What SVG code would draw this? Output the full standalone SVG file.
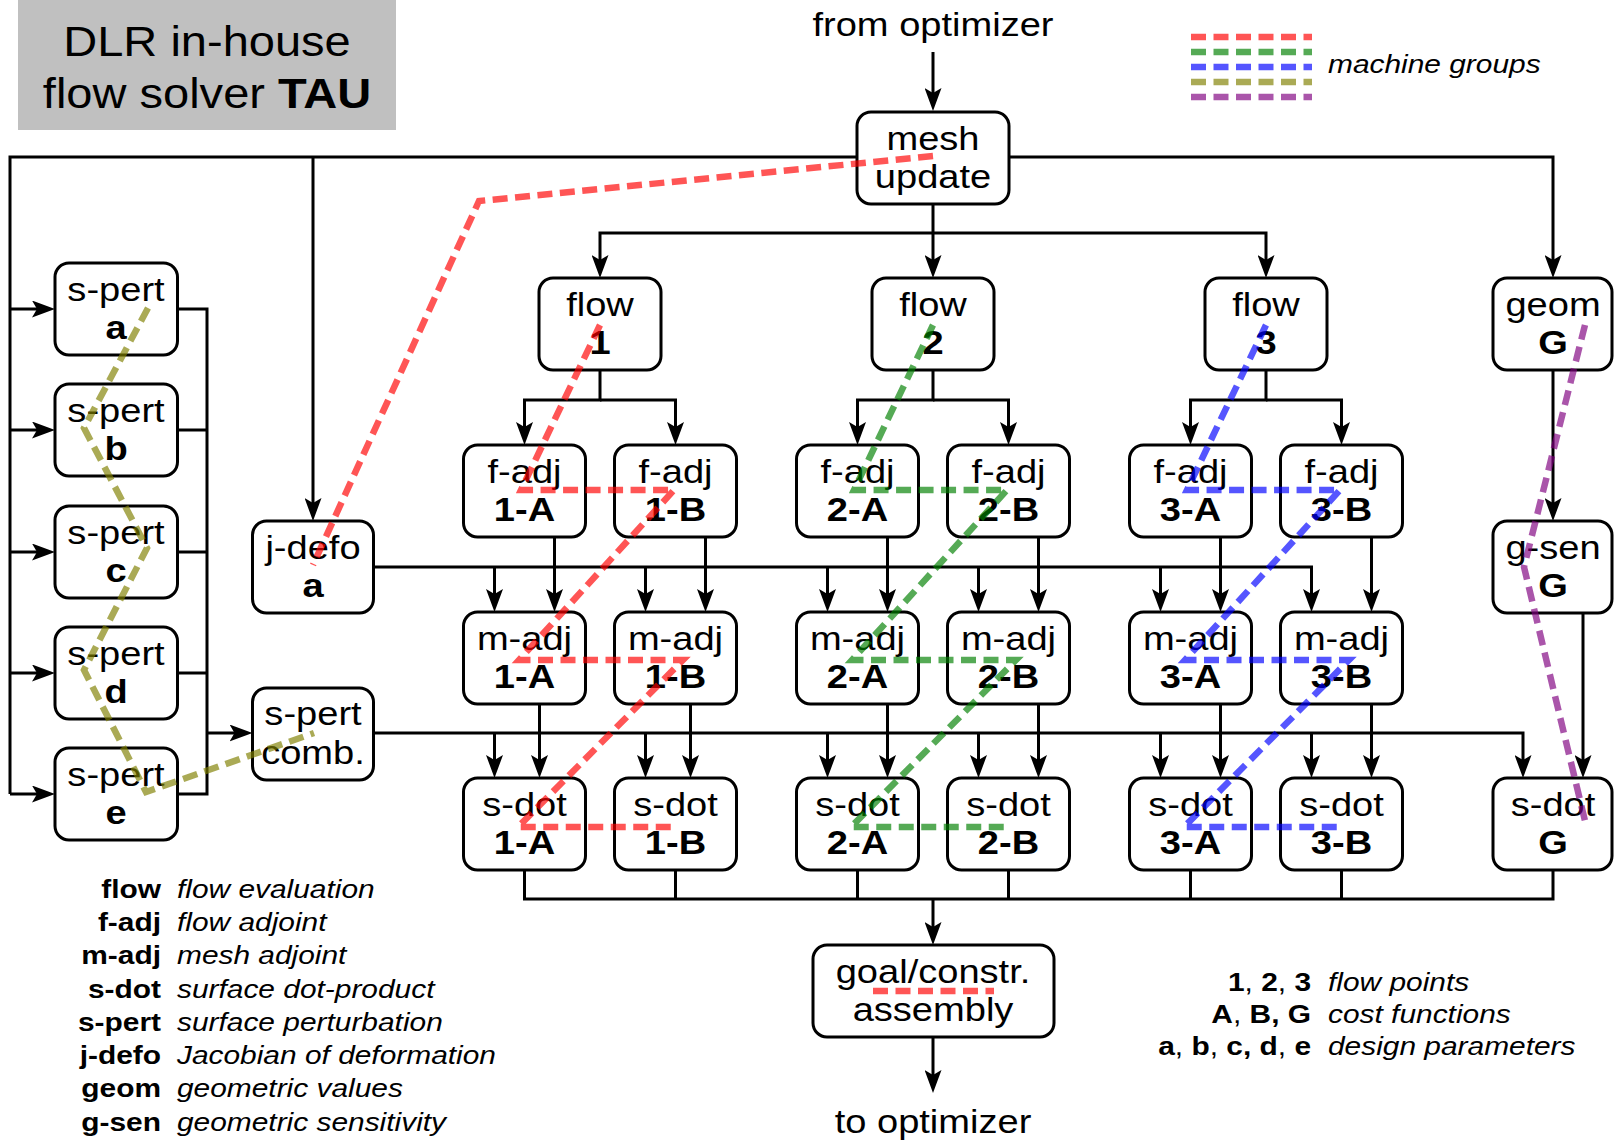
<svg xmlns="http://www.w3.org/2000/svg" width="1614" height="1142" viewBox="0 0 1614 1142">
<defs>
<marker id="ah" viewBox="0 0 23 17" refX="17" refY="8.5" markerWidth="23" markerHeight="17" markerUnits="userSpaceOnUse" orient="auto">
<path d="M0,0 L23,8.5 L0,17 L5,8.5 Z" fill="#000"/>
</marker>
<style>
.box{fill:#fff;stroke:#000;stroke-width:3}
.ln{fill:none;stroke:#000;stroke-width:3}
.ar{marker-end:url(#ah)}
.t{font-family:"Liberation Sans",Arial,Helvetica,sans-serif;font-size:34px;text-anchor:middle;fill:#000}
.ttl{font-family:"Liberation Sans",Arial,Helvetica,sans-serif;font-size:42px;text-anchor:middle;fill:#000}
.lg{font-family:"Liberation Sans",Arial,Helvetica,sans-serif;font-size:26px;fill:#000}
.r{text-anchor:end}
.b{font-weight:bold}
.it{font-style:italic}
.d{fill:none;stroke-width:6.5;stroke-dasharray:15 7.5;stroke-opacity:0.667}
.cr{stroke:#ff0000}.cg{stroke:#008000}.cb{stroke:#0000ff}.co{stroke:#808000}.cp{stroke:#800080}
</style>
</defs>
<rect width="1614" height="1142" fill="#fff"/>

<g id="title">
<rect x="18" y="0" width="378" height="130" fill="#c0c0c0"/>
<text class="ttl" transform="translate(207,56) scale(1.12,1)">DLR in-house</text>
<text class="ttl" transform="translate(207,108) scale(1.12,1)">flow solver <tspan class="b">TAU</tspan></text>
</g>

<g id="connectors">
<path class="ln ar" d="M933,52 V105"/>
<path class="ln" d="M857,157 H10 V794"/>
<path class="ln ar" d="M10,309 H49"/>
<path class="ln ar" d="M10,430 H49"/>
<path class="ln ar" d="M10,552 H49"/>
<path class="ln ar" d="M10,673 H49"/>
<path class="ln ar" d="M10,794 H49"/>
<path class="ln ar" d="M313,157 V515"/>
<path class="ln ar" d="M1009,157 H1553 V272"/>
<path class="ln ar" d="M933,204 V272"/>
<path class="ln ar" d="M933,233 H600 V272"/>
<path class="ln ar" d="M933,233 H1266 V272"/>
<path class="ln ar" d="M600,370 V400 H524.5 V439"/>
<path class="ln ar" d="M600,400 H675.5 V439"/>
<path class="ln ar" d="M933,370 V400 H857.5 V439"/>
<path class="ln ar" d="M933,400 H1008.5 V439"/>
<path class="ln ar" d="M1266,370 V400 H1190.5 V439"/>
<path class="ln ar" d="M1266,400 H1341.5 V439"/>
<path class="ln ar" d="M1553,370 V515"/>
<path class="ln ar" d="M1583,613 V772"/>
<path class="ln" d="M177.5,309 H207 V794 H177.5"/>
<path class="ln" d="M177.5,430 H207"/>
<path class="ln" d="M177.5,552 H207"/>
<path class="ln" d="M177.5,673 H207"/>
<path class="ln ar" d="M207,733 H246.5"/>
<path class="ln ar" d="M373.5,567 H1311.5 V606"/>
<path class="ln ar" d="M494.5,567 V606"/>
<path class="ln ar" d="M645.5,567 V606"/>
<path class="ln ar" d="M827.5,567 V606"/>
<path class="ln ar" d="M978.5,567 V606"/>
<path class="ln ar" d="M1160.5,567 V606"/>
<path class="ln ar" d="M554.5,537 V606"/>
<path class="ln ar" d="M705.5,537 V606"/>
<path class="ln ar" d="M887.5,537 V606"/>
<path class="ln ar" d="M1038.5,537 V606"/>
<path class="ln ar" d="M1220.5,537 V606"/>
<path class="ln ar" d="M1371.5,537 V606"/>
<path class="ln ar" d="M373.5,733 H1523 V772"/>
<path class="ln ar" d="M494.5,733 V772"/>
<path class="ln ar" d="M645.5,733 V772"/>
<path class="ln ar" d="M827.5,733 V772"/>
<path class="ln ar" d="M978.5,733 V772"/>
<path class="ln ar" d="M1160.5,733 V772"/>
<path class="ln ar" d="M1311.5,733 V772"/>
<path class="ln ar" d="M539.5,704 V772"/>
<path class="ln ar" d="M690.5,704 V772"/>
<path class="ln ar" d="M887.5,704 V772"/>
<path class="ln ar" d="M1038.5,704 V772"/>
<path class="ln ar" d="M1220.5,704 V772"/>
<path class="ln ar" d="M1371.5,704 V772"/>
<path class="ln" d="M524.5,870 V899 H1553 V870"/>
<path class="ln" d="M675.5,870 V899"/>
<path class="ln" d="M857.5,870 V899"/>
<path class="ln" d="M1008.5,870 V899"/>
<path class="ln" d="M1190.5,870 V899"/>
<path class="ln" d="M1341.5,870 V899"/>
<path class="ln ar" d="M933,899 V939"/>
<path class="ln ar" d="M933,1037 V1087"/>
</g>

<g id="io-labels">
<text class="t" transform="translate(933,36) scale(1.12,1)">from optimizer</text>
<text class="t" transform="translate(933,1133) scale(1.12,1)">to optimizer</text>
</g>

<g id="mesh-update">
<rect class="box" x="857" y="112" width="152" height="92" rx="14"/>
<text class="t" transform="translate(933,150) scale(1.12,1)">mesh</text>
<text class="t" transform="translate(933,188) scale(1.12,1)">update</text>
</g>

<g id="flow-1">
<rect class="box" x="539" y="278" width="122" height="92" rx="14"/>
<text class="t" transform="translate(600,316) scale(1.12,1)">flow</text>
<text class="t b" transform="translate(600,354) scale(1.12,1)">1</text>
</g>
<g id="flow-2">
<rect class="box" x="872" y="278" width="122" height="92" rx="14"/>
<text class="t" transform="translate(933,316) scale(1.12,1)">flow</text>
<text class="t b" transform="translate(933,354) scale(1.12,1)">2</text>
</g>
<g id="flow-3">
<rect class="box" x="1205" y="278" width="122" height="92" rx="14"/>
<text class="t" transform="translate(1266,316) scale(1.12,1)">flow</text>
<text class="t b" transform="translate(1266,354) scale(1.12,1)">3</text>
</g>
<g id="geom-G">
<rect class="box" x="1493" y="278" width="119" height="92" rx="14"/>
<text class="t" transform="translate(1553,316) scale(1.12,1)">geom</text>
<text class="t b" transform="translate(1553,354) scale(1.12,1)">G</text>
</g>

<g id="f-adj-1A">
<rect class="box" x="463.5" y="445" width="122" height="92" rx="14"/>
<text class="t" transform="translate(524.5,483) scale(1.12,1)">f-adj</text>
<text class="t b" transform="translate(524.5,521) scale(1.12,1)">1-A</text>
</g>
<g id="f-adj-1B">
<rect class="box" x="614.5" y="445" width="122" height="92" rx="14"/>
<text class="t" transform="translate(675.5,483) scale(1.12,1)">f-adj</text>
<text class="t b" transform="translate(675.5,521) scale(1.12,1)">1-B</text>
</g>
<g id="f-adj-2A">
<rect class="box" x="796.5" y="445" width="122" height="92" rx="14"/>
<text class="t" transform="translate(857.5,483) scale(1.12,1)">f-adj</text>
<text class="t b" transform="translate(857.5,521) scale(1.12,1)">2-A</text>
</g>
<g id="f-adj-2B">
<rect class="box" x="947.5" y="445" width="122" height="92" rx="14"/>
<text class="t" transform="translate(1008.5,483) scale(1.12,1)">f-adj</text>
<text class="t b" transform="translate(1008.5,521) scale(1.12,1)">2-B</text>
</g>
<g id="f-adj-3A">
<rect class="box" x="1129.5" y="445" width="122" height="92" rx="14"/>
<text class="t" transform="translate(1190.5,483) scale(1.12,1)">f-adj</text>
<text class="t b" transform="translate(1190.5,521) scale(1.12,1)">3-A</text>
</g>
<g id="f-adj-3B">
<rect class="box" x="1280.5" y="445" width="122" height="92" rx="14"/>
<text class="t" transform="translate(1341.5,483) scale(1.12,1)">f-adj</text>
<text class="t b" transform="translate(1341.5,521) scale(1.12,1)">3-B</text>
</g>

<g id="m-adj-1A">
<rect class="box" x="463.5" y="612" width="122" height="92" rx="14"/>
<text class="t" transform="translate(524.5,650) scale(1.12,1)">m-adj</text>
<text class="t b" transform="translate(524.5,688) scale(1.12,1)">1-A</text>
</g>
<g id="m-adj-1B">
<rect class="box" x="614.5" y="612" width="122" height="92" rx="14"/>
<text class="t" transform="translate(675.5,650) scale(1.12,1)">m-adj</text>
<text class="t b" transform="translate(675.5,688) scale(1.12,1)">1-B</text>
</g>
<g id="m-adj-2A">
<rect class="box" x="796.5" y="612" width="122" height="92" rx="14"/>
<text class="t" transform="translate(857.5,650) scale(1.12,1)">m-adj</text>
<text class="t b" transform="translate(857.5,688) scale(1.12,1)">2-A</text>
</g>
<g id="m-adj-2B">
<rect class="box" x="947.5" y="612" width="122" height="92" rx="14"/>
<text class="t" transform="translate(1008.5,650) scale(1.12,1)">m-adj</text>
<text class="t b" transform="translate(1008.5,688) scale(1.12,1)">2-B</text>
</g>
<g id="m-adj-3A">
<rect class="box" x="1129.5" y="612" width="122" height="92" rx="14"/>
<text class="t" transform="translate(1190.5,650) scale(1.12,1)">m-adj</text>
<text class="t b" transform="translate(1190.5,688) scale(1.12,1)">3-A</text>
</g>
<g id="m-adj-3B">
<rect class="box" x="1280.5" y="612" width="122" height="92" rx="14"/>
<text class="t" transform="translate(1341.5,650) scale(1.12,1)">m-adj</text>
<text class="t b" transform="translate(1341.5,688) scale(1.12,1)">3-B</text>
</g>

<g id="s-dot-1A">
<rect class="box" x="463.5" y="778" width="122" height="92" rx="14"/>
<text class="t" transform="translate(524.5,816) scale(1.12,1)">s-dot</text>
<text class="t b" transform="translate(524.5,854) scale(1.12,1)">1-A</text>
</g>
<g id="s-dot-1B">
<rect class="box" x="614.5" y="778" width="122" height="92" rx="14"/>
<text class="t" transform="translate(675.5,816) scale(1.12,1)">s-dot</text>
<text class="t b" transform="translate(675.5,854) scale(1.12,1)">1-B</text>
</g>
<g id="s-dot-2A">
<rect class="box" x="796.5" y="778" width="122" height="92" rx="14"/>
<text class="t" transform="translate(857.5,816) scale(1.12,1)">s-dot</text>
<text class="t b" transform="translate(857.5,854) scale(1.12,1)">2-A</text>
</g>
<g id="s-dot-2B">
<rect class="box" x="947.5" y="778" width="122" height="92" rx="14"/>
<text class="t" transform="translate(1008.5,816) scale(1.12,1)">s-dot</text>
<text class="t b" transform="translate(1008.5,854) scale(1.12,1)">2-B</text>
</g>
<g id="s-dot-3A">
<rect class="box" x="1129.5" y="778" width="122" height="92" rx="14"/>
<text class="t" transform="translate(1190.5,816) scale(1.12,1)">s-dot</text>
<text class="t b" transform="translate(1190.5,854) scale(1.12,1)">3-A</text>
</g>
<g id="s-dot-3B">
<rect class="box" x="1280.5" y="778" width="122" height="92" rx="14"/>
<text class="t" transform="translate(1341.5,816) scale(1.12,1)">s-dot</text>
<text class="t b" transform="translate(1341.5,854) scale(1.12,1)">3-B</text>
</g>

<g id="g-sen-G">
<rect class="box" x="1493" y="521" width="119" height="92" rx="14"/>
<text class="t" transform="translate(1553,559) scale(1.12,1)">g-sen</text>
<text class="t b" transform="translate(1553,597) scale(1.12,1)">G</text>
</g>
<g id="s-dot-G">
<rect class="box" x="1493" y="778" width="119" height="92" rx="14"/>
<text class="t" transform="translate(1553,816) scale(1.12,1)">s-dot</text>
<text class="t b" transform="translate(1553,854) scale(1.12,1)">G</text>
</g>

<g id="s-pert-a">
<rect class="box" x="55" y="263" width="122.5" height="92" rx="14"/>
<text class="t" transform="translate(116,301) scale(1.12,1)">s-pert</text>
<text class="t b" transform="translate(116,339) scale(1.12,1)">a</text>
</g>
<g id="s-pert-b">
<rect class="box" x="55" y="384" width="122.5" height="92" rx="14"/>
<text class="t" transform="translate(116,422) scale(1.12,1)">s-pert</text>
<text class="t b" transform="translate(116,460) scale(1.12,1)">b</text>
</g>
<g id="s-pert-c">
<rect class="box" x="55" y="506" width="122.5" height="92" rx="14"/>
<text class="t" transform="translate(116,544) scale(1.12,1)">s-pert</text>
<text class="t b" transform="translate(116,582) scale(1.12,1)">c</text>
</g>
<g id="s-pert-d">
<rect class="box" x="55" y="627" width="122.5" height="92" rx="14"/>
<text class="t" transform="translate(116,665) scale(1.12,1)">s-pert</text>
<text class="t b" transform="translate(116,703) scale(1.12,1)">d</text>
</g>
<g id="s-pert-e">
<rect class="box" x="55" y="748" width="122.5" height="92" rx="14"/>
<text class="t" transform="translate(116,786) scale(1.12,1)">s-pert</text>
<text class="t b" transform="translate(116,824) scale(1.12,1)">e</text>
</g>
<g id="j-defo-a">
<rect class="box" x="252.5" y="521" width="121" height="92" rx="14"/>
<text class="t" transform="translate(313,559) scale(1.12,1)">j-defo</text>
<text class="t b" transform="translate(313,597) scale(1.12,1)">a</text>
</g>
<g id="s-pert-comb">
<rect class="box" x="252.5" y="688" width="121" height="92" rx="14"/>
<text class="t" transform="translate(313,725) scale(1.12,1)">s-pert</text>
<text class="t" transform="translate(313,764) scale(1.12,1)">comb.</text>
</g>

<g id="goal-assembly">
<rect class="box" x="813" y="945" width="241" height="92" rx="14"/>
<text class="t" transform="translate(933,983) scale(1.12,1)">goal/constr.</text>
<text class="t" transform="translate(933,1021) scale(1.12,1)">assembly</text>
</g>

<g id="machine-groups">
<path class="d cr" d="M933,156 L479,201 L313,565"/>
<path class="d cr" d="M600,325 L521,490 L674,490 L519,660 L683,660 L518,827 L671,827"/>
<path class="d cg" d="M933,325 L854,490 L1007,490 L852,660 L1016,660 L851,827 L1004,827"/>
<path class="d cb" d="M1266,325 L1187,490 L1340,490 L1185,660 L1349,660 L1184,827 L1337,827"/>
<path class="d cp" d="M1585,325 L1524,567 L1586,825"/>
<path class="d co" d="M148,308 L84,428 L147,548 L84,670 L146,792 L314,733"/>
<path class="d cr" d="M873,991 H994"/>
</g>

<g id="legend-groups">
<path class="d cr" d="M1191,37 H1312"/>
<path class="d cg" d="M1191,52 H1312"/>
<path class="d cb" d="M1191,67 H1312"/>
<path class="d co" d="M1191,82 H1312"/>
<path class="d cp" d="M1191,97 H1312"/>
<text class="lg it" transform="translate(1328,73) scale(1.15,1)">machine groups</text>
</g>

<g id="legend-terms">
<text class="lg b r" transform="translate(161,898) scale(1.15,1)">flow</text>
<text class="lg it" transform="translate(177,898) scale(1.15,1)">flow evaluation</text>
<text class="lg b r" transform="translate(161,931) scale(1.15,1)">f-adj</text>
<text class="lg it" transform="translate(177,931) scale(1.15,1)">flow adjoint</text>
<text class="lg b r" transform="translate(161,964) scale(1.15,1)">m-adj</text>
<text class="lg it" transform="translate(177,964) scale(1.15,1)">mesh adjoint</text>
<text class="lg b r" transform="translate(161,997.5) scale(1.15,1)">s-dot</text>
<text class="lg it" transform="translate(177,997.5) scale(1.15,1)">surface dot-product</text>
<text class="lg b r" transform="translate(161,1031) scale(1.15,1)">s-pert</text>
<text class="lg it" transform="translate(177,1031) scale(1.15,1)">surface perturbation</text>
<text class="lg b r" transform="translate(161,1064) scale(1.15,1)">j-defo</text>
<text class="lg it" transform="translate(177,1064) scale(1.15,1)">Jacobian of deformation</text>
<text class="lg b r" transform="translate(161,1097) scale(1.15,1)">geom</text>
<text class="lg it" transform="translate(177,1097) scale(1.15,1)">geometric values</text>
<text class="lg b r" transform="translate(161,1130.5) scale(1.15,1)">g-sen</text>
<text class="lg it" transform="translate(177,1130.5) scale(1.15,1)">geometric sensitivity</text>
</g>

<g id="legend-indices">
<text class="lg r" transform="translate(1311,991) scale(1.15,1)"><tspan class="b">1</tspan>, <tspan class="b">2</tspan>, <tspan class="b">3</tspan></text>
<text class="lg it" transform="translate(1328,991) scale(1.15,1)">flow points</text>
<text class="lg r" transform="translate(1311,1023) scale(1.15,1)"><tspan class="b">A</tspan>, <tspan class="b">B, G</tspan></text>
<text class="lg it" transform="translate(1328,1023) scale(1.15,1)">cost functions</text>
<text class="lg r" transform="translate(1311,1055) scale(1.15,1)"><tspan class="b">a</tspan>, <tspan class="b">b</tspan>, <tspan class="b">c,</tspan> <tspan class="b">d</tspan>, <tspan class="b">e</tspan></text>
<text class="lg it" transform="translate(1328,1055) scale(1.15,1)">design parameters</text>
</g>
</svg>
